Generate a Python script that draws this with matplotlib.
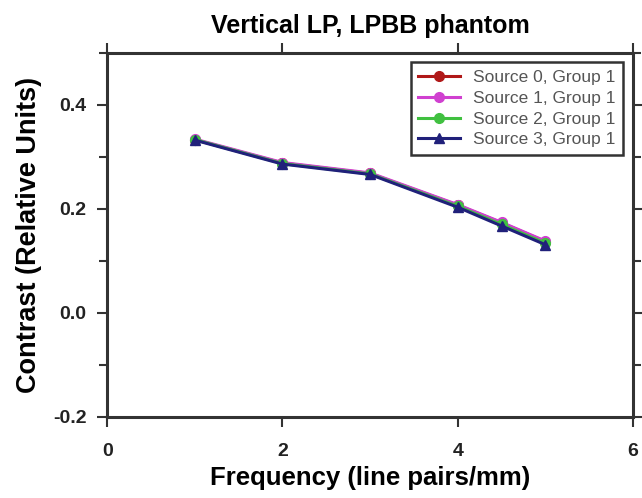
import matplotlib
matplotlib.use("Agg")
from matplotlib import pyplot as plt
from matplotlib.ticker import MultipleLocator

plt.rcParams['font.family'] = ['Liberation Sans', 'DejaVu Sans']

# line-pair frequencies and measured contrast per source
freq = [1, 2, 3, 4, 4.5, 5]
src0 = [0.333, 0.288, 0.268, 0.207, 0.173, 0.137]
src1 = [0.334, 0.289, 0.269, 0.208, 0.174, 0.138]
src2 = [0.333, 0.287, 0.267, 0.205, 0.170, 0.134]
src3 = [0.332, 0.286, 0.266, 0.203, 0.167, 0.131]
labels = ["Source 0, Group 1", "Source 1, Group 1",
          "Source 2, Group 1", "Source 3, Group 1"]

fig = plt.figure(figsize=(6.42, 4.98), dpi=100)
ax = fig.add_axes([0.167, 0.163, 0.819, 0.731])

ax.plot(freq, src0, color='#b01818', marker='o', ms=7, lw=2.2, label=labels[0])
ax.plot(freq, src1, color='#d040d0', marker='o', ms=7, lw=2.2, label=labels[1])
ax.plot(freq, src2, color='#40c040', marker='o', ms=7, lw=2.2, label=labels[2])
ax.plot(freq, src3, color='#20207a', marker='^', ms=7, lw=2.2, label=labels[3])

ax.set_xlim(0, 6)
ax.set_ylim(-0.2, 0.5)
ax.xaxis.set_major_locator(MultipleLocator(2))
ax.yaxis.set_minor_locator(MultipleLocator(0.1))
ax.set_yticks([-0.2, 0.0, 0.2, 0.4])
ax.set_yticklabels(['-0.2', '0.0', '0.2', '0.4'])

for s in ax.spines.values():
    s.set_linewidth(2.2)
    s.set_color('#333333')
ax.tick_params(which='both', direction='out', top=True, right=True,
               width=1.5, color='#333333')
ax.tick_params(which='major', length=7, labelsize=14)
ax.tick_params(which='minor', length=6)
ax.tick_params(axis='x', which='major', pad=12)
ax.tick_params(axis='y', which='major', pad=8)
for t in ax.get_xticklabels() + ax.get_yticklabels():
    t.set_fontweight('bold')
    t.set_color('#222222')

ax.set_title("Vertical LP, LPBB phantom", fontsize=18, fontweight='bold', pad=14)
ax.set_xlabel("Frequency (line pairs/mm)", fontsize=18.5, fontweight='bold', labelpad=4)
ax.set_ylabel("Contrast (Relative Units)", fontsize=19.5, fontweight='bold', labelpad=8)

leg = ax.legend(loc='upper right', fontsize=12.5, fancybox=False, framealpha=1,
                borderpad=0.45, labelspacing=0.32, handlelength=2.4,
                handletextpad=0.75, borderaxespad=0.55)
leg.get_frame().set_edgecolor('#333333')
leg.get_frame().set_linewidth(1.8)
for t in leg.get_texts():
    t.set_color('#555555')

fig.savefig("out.png", dpi=100)
